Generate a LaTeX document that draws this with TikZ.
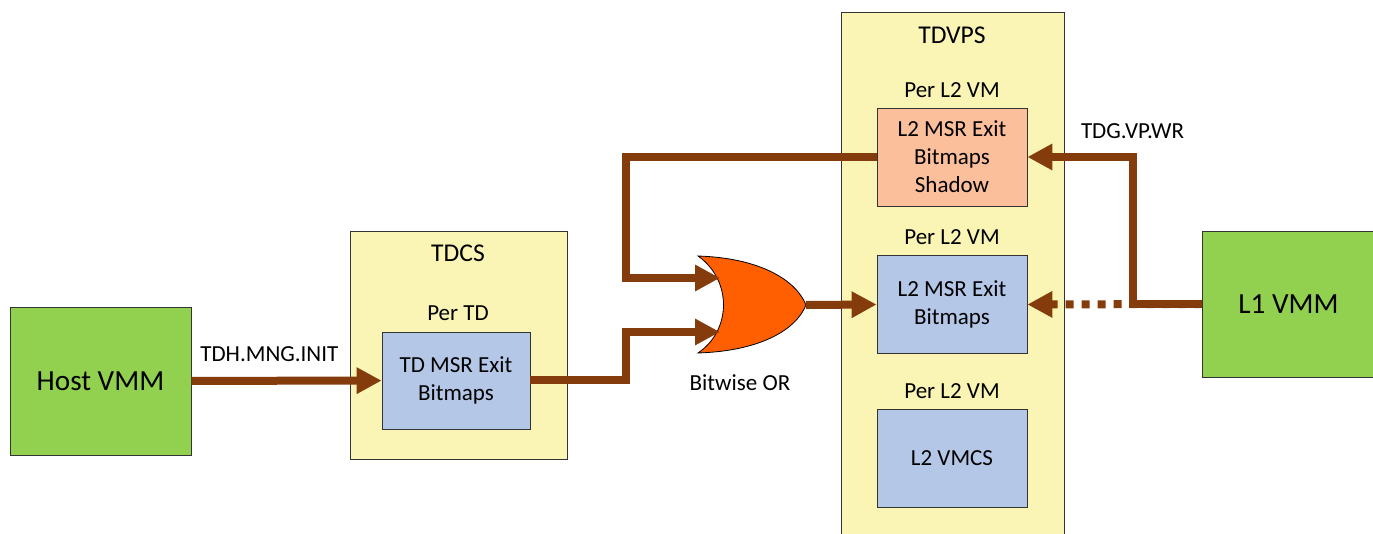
\documentclass[tikz,border=0pt]{standalone}
\usepackage{fontspec}
\setmainfont{Carlito}
\usetikzlibrary{arrows.meta,positioning}
\definecolor{vmmgreen}{HTML}{92D050}
\definecolor{structyellow}{HTML}{FAF5B4}
\definecolor{bitmapblue}{HTML}{B4C7E7}
\definecolor{shadowsalmon}{HTML}{FBBF9C}
\definecolor{gateorange}{HTML}{FF5F00}
\definecolor{flowbrown}{HTML}{843C0C}

\begin{document}
\begin{tikzpicture}[x=0.5pt, y=-0.5pt,
      every node/.append style={font=\fontsize{11.5}{14}\selectfont, align=center},
      flow/.style={draw=flowbrown, line width=4pt, -{Triangle[length=12.5pt,width=12.5pt]}},
      box/.style={draw=black!80, line width=0.4pt, minimum width=75pt, minimum height=49pt, inner sep=2pt}]
    \tikzstyle{vmm} = [draw=black!80, line width=0.4pt, fill=vmmgreen, font=\fontsize{14.6}{17}\selectfont]
    \tikzstyle{struct} = [draw=black!80, line width=0.4pt, fill=structyellow]
    \tikzstyle{title} = [font=\fontsize{12.8}{15}\selectfont]
    \useasboundingbox (0,0) rectangle (1373,534);
    \node (tdcs) [struct, minimum width=108.5pt, minimum height=114pt] at (458.5,345) {};
    \node (tdvps) [struct, minimum width=111.5pt, minimum height=266pt] at (952.5,278) {};
    \node [title] at (458,253) {TDCS};
    \node [title] at (952,35) {TDVPS};
    \node (hostvmm) [vmm, minimum width=90.5pt, minimum height=74pt] at (100.5,381) {Host VMM};
    \node (l1vmm) [vmm, minimum width=86.5pt, minimum height=73pt] at (1288.5,304) {L1 VMM};
    \node (tdmsr) [box, fill=bitmapblue, minimum width=74pt, minimum height=48.5pt] at (456,380.5) {TD MSR Exit\\Bitmaps};
    \node (shadow) [box, fill=shadowsalmon] at (952,157) {L2 MSR Exit\\Bitmaps\\Shadow};
    \node (l2msr) [box, fill=bitmapblue] at (952,304.5) {L2 MSR Exit\\Bitmaps};
    \node (l2vmcs) [box, fill=bitmapblue] at (952,458.5) {L2 VMCS};
    \node at (458,313) {Per TD};
    \node at (952,90) {Per L2 VM};
    \node at (952,237) {Per L2 VM};
    \node at (952,391) {Per L2 VM};
    \draw [fill=gateorange, draw=black, line width=0.4pt] (698,256) .. controls (760,258) and (796,280) .. (806,305)
      .. controls (796,330) and (760,351) .. (698,353)
      .. controls (732,330) and (732,280) .. (698,256) -- cycle;
    \coordinate (orin1) at (720,278);
    \coordinate (orin2) at (720,332);
    \coordinate (orout) at (806,305);
    \node (orlabel) at (740,383) {Bitwise OR};
    \draw [flow] (hostvmm) -- node [pos=0.41, above=4pt] {TDH.MNG.INIT} (tdmsr);
    \draw [flow] (tdmsr.east) -- ++(96,0) |- (orin2);
    \draw [flow] (shadow.west) -- ++(-251,0) |- (orin1);
    \draw [flow] (orout) -- (l2msr.west);
    \draw [flow, dash pattern=on 4pt off 4pt] (l1vmm.west) -- (l2msr.east);
    \draw [flow] (l1vmm.west) -- ++(-69,0) |- node [pos=0.5, above=4pt] {TDG.VP.WR} (shadow.east);
\end{tikzpicture}
\end{document}
